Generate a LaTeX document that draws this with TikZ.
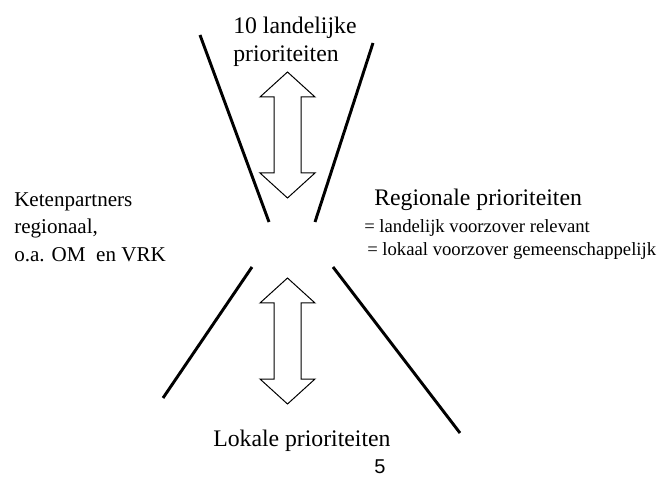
\documentclass[tikz,border=0pt]{standalone}
\usepackage{fontspec}
\setmainfont{Liberation Serif}
\newfontfamily\slidefont{Liberation Sans}
\usetikzlibrary{positioning}

\tikzset{
	funnel/.style={line width=2.2pt},
	prioarrow/.style={draw=black,line width=0.75pt,fill=white,line join=miter},
	bigtext/.style={inner sep=0pt,font=\fontsize{17.8}{21}\selectfont},
	sidetext/.style={inner sep=0pt,font=\fontsize{15.8}{20.6}\selectfont},
	smalltext/.style={inner sep=0pt,font=\fontsize{14}{17}\selectfont}
}

\begin{document}
\begin{tikzpicture}[x=0.75pt,y=0.75pt,yscale=-1,xscale=1]
	\useasboundingbox (0,0) rectangle (657,477);

	% funnel lines
	\draw[funnel]    (200,35) -- (269,222) ;
	\draw[funnel]    (373,43) -- (315,222) ;
	\draw[funnel]    (252,267) -- (163,398) ;
	\draw[funnel]    (333,267) -- (460,433) ;

	% double arrows
	\foreach \y in {72,278}{
		\draw[prioarrow,shift={(0,\y)}] (287.5,0) -- (315,25) -- (301,25) -- (301,101) -- (315,101) -- (287.5,126) -- (260,101) -- (274,101) -- (274,25) -- (260,25) -- cycle ;
	}

	% labels
	\node[bigtext,anchor=base west] (land1) at (233,34) {10 landelijke};
	\node[bigtext,anchor=base west] (land2) at (233,62) {prioriteiten};
	\node[bigtext,anchor=base west] (regio) at (374,206) {Regionale prioriteiten};
	\node[smalltext,anchor=base west] (regio1) at (364,233) {= landelijk voorzover relevant};
	\node[smalltext,anchor=base west] (regio2) at (367,256) {= lokaal voorzover gemeenschappelijk};
	\node[sidetext,anchor=base west] (keten1) at (14,207) {Ketenpartners};
	\node[sidetext,anchor=base west] (keten2) at (14,234) {regionaal,};
	\node[sidetext,anchor=base west] (keten3) at (14,262) {o.a. OM\ \ en VRK};
	\node[bigtext,anchor=base west] (lokaal) at (213,446) {Lokale prioriteiten};
	\node[inner sep=0pt,anchor=base west,font=\slidefont\fontsize{15}{18}\selectfont] (pagenr) at (374,473) {5};
\end{tikzpicture}
\end{document}
